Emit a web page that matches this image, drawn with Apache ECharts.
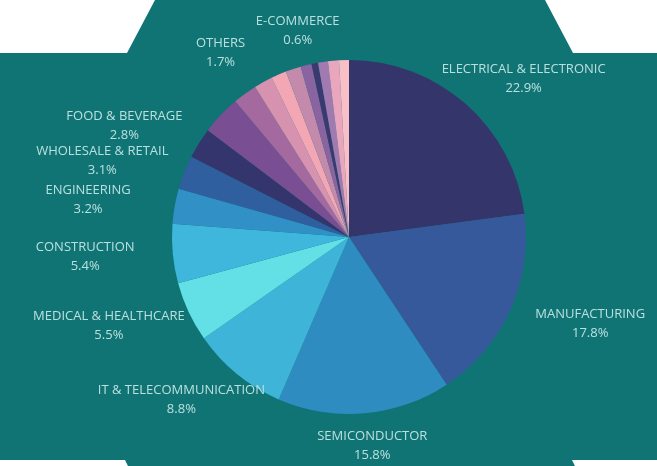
<!DOCTYPE html>
<html>
<head>
<meta charset="utf-8">
<style>
  html, body { margin: 0; padding: 0; background: #ffffff; }
  #chart { width: 657px; height: 466px; }
</style>
<script src="https://cdn.jsdelivr.net/npm/echarts@6/dist/echarts.min.js"></script>
</head>
<body>
<div id="chart"></div>
<script>
// Industry share (%), clockwise from 12 o'clock. Empty names = unlabeled small slices.
const categories = [
  'ELECTRICAL & ELECTRONIC', 'MANUFACTURING', 'SEMICONDUCTOR', 'IT & TELECOMMUNICATION',
  'MEDICAL & HEALTHCARE', 'CONSTRUCTION', 'ENGINEERING', 'WHOLESALE & RETAIL',
  'FOOD & BEVERAGE', '', '', 'OTHERS', '', '', '', 'E-COMMERCE', '', '', ''
];
const shares = [
  22.9, 17.8, 15.8, 8.8,
  5.5, 5.4, 3.2, 3.1,
  2.8, 3.6, 2.2, 1.7, 1.4, 1.4, 1.0, 0.6, 0.9, 1.0, 0.9
];
const sliceColors = [
  '#34356b', '#36599b', '#2e8cc0', '#3db4d8',
  '#62e0e6', '#3fb6dc', '#3190c6', '#305f9f',
  '#35356e', '#7a4e92', '#a46aa0', '#d792b0', '#f3a7b5', '#c48aab', '#8a64a0', '#3a3a70', '#a07ab0', '#e9a6bd', '#f8bfc6'
];

const CX = 349, CY = 237;
const chart = echarts.init(document.getElementById('chart'), null, { renderer: 'canvas' });

const pieData = categories.map((name, i) => ({
  name: name,
  value: shares[i],
  itemStyle: { color: sliceColors[i] }
}));

const labelData = categories.map((name, i) => ({
  name: name,
  value: shares[i],
  label: { show: name !== '' }
}));

const option = {
  backgroundColor: '#ffffff',
  animation: false,
  graphic: [{
    type: 'polygon',
    silent: true,
    z: -10,
    shape: {
      points: [
        [0, 53], [127, 53], [155, 0], [545, 0], [573, 53], [657, 53],
        [657, 460], [572, 460], [575, 466], [128, 466], [125, 460], [0, 460]
      ]
    },
    style: { fill: '#107474' }
  }],
  series: [
    {
      type: 'pie',
      center: [CX, CY],
      radius: ['0%', 177],
      startAngle: 90,
      clockwise: true,
      silent: true,
      label: { show: false },
      labelLine: { show: false },
      itemStyle: { borderWidth: 0 },
      data: pieData
    },
    {
      type: 'pie',
      center: [CX, CY],
      radius: [226, 268],
      startAngle: 90,
      clockwise: true,
      silent: true,
      itemStyle: { color: 'rgba(0,0,0,0)', borderWidth: 0 },
      labelLine: { show: false },
      label: {
        show: true,
        position: 'inside',
        color: '#b9e0de',
        fontFamily: 'Open Sans',
        fontSize: 13,
        lineHeight: 19,
        formatter: p => p.name + '\n' + p.value.toFixed(1) + '%'
      },
      // stretch the label ring into an ellipse (wider than tall)
      labelLayout: function (params) {
        const r = params.labelRect;
        const mx = r.x + r.width / 2;
        const my = r.y + r.height / 2;
        return {
          x: CX + (mx - CX) * 1.06,
          y: CY + (my - CY) * 0.84,
          align: 'center',
          verticalAlign: 'middle'
        };
      },
      data: labelData
    }
  ]
};

chart.setOption(option);
</script>
</body>
</html>
